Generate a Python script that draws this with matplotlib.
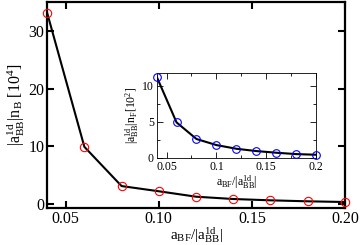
import matplotlib
matplotlib.use("Agg")
import matplotlib.pyplot as plt

plt.rcParams['font.family'] = 'Liberation Serif'
plt.rcParams['mathtext.fontset'] = 'stix'
plt.rcParams['mathtext.default'] = 'regular'

# data
ratio = [0.04, 0.06, 0.08, 0.10, 0.12, 0.14, 0.16, 0.18, 0.20]
nB = [33.1, 9.9, 3.1, 2.2, 1.26, 0.86, 0.63, 0.46, 0.34]
nF = [11.25, 4.9, 2.6, 1.76, 1.25, 0.93, 0.70, 0.51, 0.42]

fig = plt.figure(figsize=(3.6, 2.45), dpi=100)
ax = fig.add_axes([0.131, 0.151, 0.827, 0.841])
ax.plot(ratio, nB, color='black', lw=1.5, zorder=2)
ax.plot(ratio, nB, 'o', mfc='none', mec='red', ms=6, mew=0.8, zorder=3, clip_on=False)
ax.set_xlim(0.04, 0.2)
ax.set_ylim(-0.7, 35)
ax.set_xticks([0.05, 0.10, 0.15, 0.20])
ax.set_xticklabels(['0.05', '0.10', '0.15', '0.20'])
ax.set_yticks([0, 10, 20, 30])
ax.tick_params(direction='in', top=True, right=True, length=5, width=1.5, labelsize=11.5, pad=2)
for s in ax.spines.values():
    s.set_linewidth(1.6)
ax.set_xlabel(r'$a_{BF}/|a^{1d}_{BB}|$', fontsize=11, labelpad=-1)
ax.set_ylabel(r'$|a^{1d}_{BB}|n_B\ [10^4]$', fontsize=11.5, labelpad=1)

# inset
ins = fig.add_axes([0.435, 0.356, 0.443, 0.345])
ins.plot(ratio, nF, color='black', lw=1.5, zorder=2)
ins.plot(ratio, nF, 'o', mfc='none', mec='blue', ms=5.5, mew=0.8, zorder=3, clip_on=False)
ins.set_xlim(0.04, 0.2)
ins.set_ylim(0, 11.7)
ins.set_xticks([0.05, 0.1, 0.15, 0.2])
ins.set_xticklabels(['0.05', '0.1', '0.15', '0.2'])
ins.set_xticks([0.075, 0.125, 0.175], minor=True)
ins.set_yticks([0, 5, 10])
ins.set_yticks([2.5, 7.5], minor=True)
ins.tick_params(which='both', direction='in', top=True, right=True, labelsize=8.5, pad=2, width=0.6)
ins.tick_params(which='major', length=4)
ins.tick_params(which='minor', length=2.5)
for s in ins.spines.values():
    s.set_linewidth(0.6)
ins.set_xlabel(r'$a_{BF}/|a^{1d}_{BB}|$', fontsize=8.5, labelpad=1)
ins.set_ylabel(r'$|a^{1d}_{BB}|n_F[10^2]$', fontsize=8.5, labelpad=1)

fig.savefig('out.png', dpi=100)
